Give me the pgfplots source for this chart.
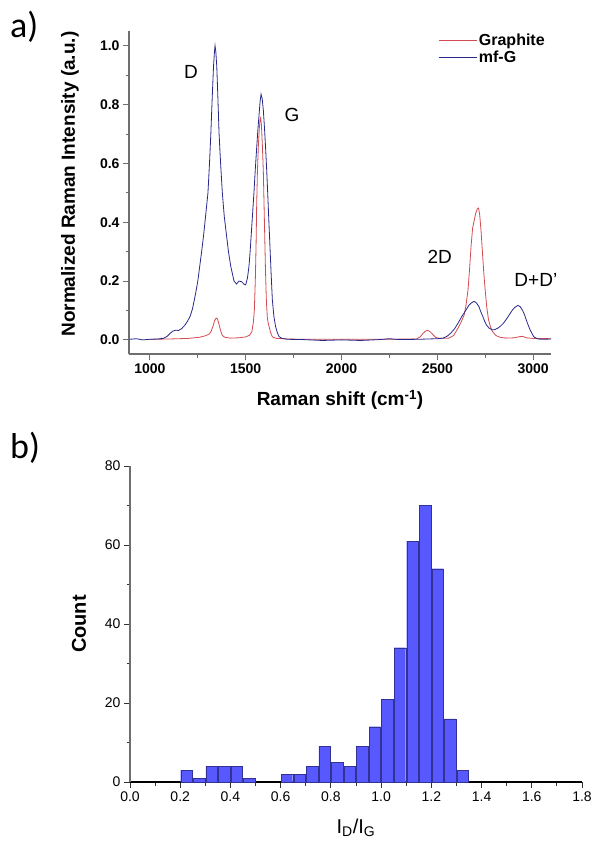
\documentclass[border=0pt]{standalone}
\usepackage{pgfplots}
\pgfplotsset{compat=1.18}
\usepackage{fontspec}
\setmainfont{Liberation Sans}
\newfontfamily\carlito{Carlito}
\definecolor{graphred}{RGB}{210,75,80}
\definecolor{mfblue}{RGB}{40,40,140}
\definecolor{histblue}{RGB}{88,88,255}
\definecolor{histedge}{RGB}{50,50,150}
\definecolor{axgray}{RGB}{110,110,110}
\begin{document}
\begin{tikzpicture}[x=1pt,y=1pt]
\useasboundingbox (0,0) rectangle (593,-843);
\node[anchor=base west, inner sep=0pt, font=\carlito\fontsize{36}{40}\selectfont] at (10,-38) {a)};
\node[anchor=base west, inner sep=0pt, font=\carlito\fontsize{36}{40}\selectfont] at (10,-458) {b)};
\begin{axis}[
  at={(129pt,-354pt)}, anchor=south west, scale only axis,
  width=422pt, height=323pt,
  xmin=891, xmax=3093, ymin=-0.048, ymax=1.05,
  axis x line*=bottom, axis y line*=left,
  axis line style={draw=axgray, line width=1.2pt, -},
  tick align=outside, major tick length=6pt, minor tick length=3.5pt,
  tick style={draw=axgray, line width=0.9pt},
  xtick={1000,1500,2000,2500,3000}, minor xtick={1250,1750,2250,2750},
  ytick={0,0.2,0.4,0.6,0.8,1.0}, minor ytick={0.1,0.3,0.5,0.7,0.9},
  /pgf/number format/assume math mode=true,
  xticklabel style={/pgf/number format/set thousands separator={}},
  yticklabel style={/pgf/number format/fixed, /pgf/number format/precision=1, /pgf/number format/fixed zerofill},
  tick label style={font=\bfseries\fontsize{14}{16}\selectfont},
  every axis y label/.style={at={(axis description cs:-0.140,0.526)}, rotate=90, anchor=center, font=\bfseries\fontsize{19}{22}\selectfont},
  every axis x label/.style={at={(axis description cs:0.5,-0.142)}, anchor=center, font=\bfseries\fontsize{19}{22}\selectfont},
  ylabel={Normalized Raman Intensity (a.u.)},
  xlabel={Raman shift (cm\textsuperscript{-1})},
  clip=false,
  legend style={at={(axis cs:2505,1.045)}, anchor=north west, draw=none, fill=none, inner sep=0pt, font=\bfseries\fontsize{16}{18}\selectfont, row sep=1pt, nodes={inner sep=1.5pt}},
  legend cell align=left,
  legend image code/.code={\draw[#1, line width=0.9pt] (0pt,0pt) -- (38pt,0pt);},
]
\addplot[graphred, line width=0.8pt] coordinates {
(1000,0.002) (1100,0.003) (1200,0.005) (1260,0.009) (1290,0.014) (1310,0.02) (1320,0.03) (1330,0.048) (1338,0.066) (1346,0.074) (1352,0.072) (1360,0.055) (1368,0.034) (1378,0.015) (1390,0.009) (1420,0.006) (1460,0.007) (1500,0.01) (1520,0.016) (1532,0.028) (1540,0.06) (1545,0.1) (1550,0.2) (1554,0.32) (1557,0.45) (1561,0.57) (1566,0.66) (1571,0.72) (1575,0.75) (1578,0.755) (1582,0.73) (1587,0.66) (1592,0.57) (1596,0.45) (1599,0.36) (1603,0.24) (1608,0.13) (1613,0.075) (1618,0.055) (1622,0.045) (1630,0.025) (1639,0.01) (1660,0.005) (1718,0.003) (1800,0.002) (2000,0.002) (2200,0.002) (2390,0.003) (2410,0.01) (2425,0.022) (2440,0.031) (2450,0.032) (2462,0.028) (2475,0.019) (2490,0.009) (2510,0.005) (2560,0.006) (2585,0.015) (2608,0.04) (2625,0.062) (2640,0.085) (2650,0.12) (2660,0.17) (2668,0.24) (2676,0.32) (2684,0.38) (2692,0.405) (2700,0.43) (2708,0.445) (2715,0.448) (2721,0.425) (2728,0.37) (2735,0.30) (2742,0.23) (2750,0.165) (2758,0.11) (2767,0.068) (2777,0.045) (2786,0.03) (2805,0.015) (2826,0.009) (2860,0.006) (2900,0.007) (2930,0.011) (2945,0.012) (2965,0.007) (3000,0.005) (3093,0.004)
};
\addlegendentry{Graphite}
\addplot[mfblue, line width=0.8pt] coordinates {
(893,0.002) (930,0.004) (960,0.0) (1000,0.002) (1040,0.003) (1070,0.005) (1090,0.012) (1105,0.022) (1120,0.03) (1135,0.033) (1150,0.032) (1165,0.038) (1180,0.048) (1195,0.062) (1210,0.08) (1222,0.105) (1232,0.136) (1242,0.17) (1250,0.2) (1260,0.25) (1270,0.30) (1281,0.36) (1292,0.43) (1303,0.5) (1311,0.60) (1318,0.70) (1325,0.82) (1332,0.93) (1337,0.98) (1340,1.0) (1344,0.98) (1349,0.93) (1355,0.82) (1361,0.70) (1369,0.60) (1378,0.50) (1388,0.42) (1399,0.36) (1410,0.30) (1422,0.25) (1439,0.20) (1452,0.19) (1465,0.2) (1478,0.198) (1490,0.19) (1500,0.187) (1509,0.21) (1517,0.25) (1523,0.30) (1529,0.36) (1536,0.43) (1543,0.50) (1550,0.58) (1557,0.65) (1563,0.71) (1569,0.76) (1575,0.81) (1580,0.835) (1586,0.82) (1592,0.78) (1598,0.72) (1604,0.65) (1610,0.57) (1616,0.48) (1621,0.40) (1627,0.31) (1633,0.22) (1639,0.136) (1647,0.08) (1656,0.045) (1665,0.025) (1674,0.011) (1690,0.005) (1720,0.002) (1800,0.001) (1900,-0.002) (2000,0.0) (2100,-0.002) (2200,0.001) (2250,0.004) (2300,0.001) (2400,0.002) (2500,0.004) (2530,0.006) (2550,0.012) (2570,0.023) (2590,0.038) (2608,0.057) (2628,0.08) (2648,0.10) (2665,0.118) (2680,0.127) (2692,0.131) (2705,0.125) (2717,0.113) (2727,0.095) (2737,0.08) (2747,0.063) (2757,0.05) (2770,0.04) (2786,0.034) (2800,0.035) (2816,0.04) (2830,0.047) (2845,0.057) (2860,0.07) (2875,0.085) (2890,0.10) (2905,0.111) (2920,0.117) (2932,0.113) (2945,0.10) (2955,0.085) (2964,0.068) (2974,0.05) (2984,0.034) (2995,0.02) (3004,0.01) (3024,0.003) (3050,0.002) (3093,0.003)
};
\addlegendentry{mf-G}
\node[font=\fontsize{19}{22}\selectfont] at (axis cs:1214,0.91) {D};
\node[font=\fontsize{19}{22}\selectfont] at (axis cs:1742,0.765) {G};
\node[font=\fontsize{19}{22}\selectfont] at (axis cs:2512,0.282) {2D};
\node[font=\fontsize{19}{22}\selectfont] at (axis cs:3014,0.204) {D+D'};
\end{axis}
\begin{axis}[
  at={(130pt,-782pt)}, anchor=south west, scale only axis,
  width=452pt, height=316pt,
  xmin=0, xmax=1.8, ymin=0, ymax=80,
  axis x line*=bottom, axis y line*=left,
  x axis line style={draw=black, line width=1.2pt, -},
  y axis line style={draw=axgray, line width=1.2pt, -},
  tick align=outside, major tick length=6pt, minor tick length=3.5pt,
  tick style={draw=black!80, line width=0.9pt},
  xtick={0,0.2,0.4,0.6,0.8,1.0,1.2,1.4,1.6,1.8},
  minor xtick={0.1,0.3,0.5,0.7,0.9,1.1,1.3,1.5,1.7},
  ytick={0,20,40,60,80}, minor ytick={10,30,50,70},
  /pgf/number format/assume math mode=true,
  xticklabel style={/pgf/number format/fixed, /pgf/number format/precision=1, /pgf/number format/fixed zerofill},
  tick label style={font=\fontsize{14}{16}\selectfont},
  every axis y label/.style={at={(axis description cs:-0.113,0.5)}, rotate=90, anchor=center, font=\bfseries\fontsize{20}{24}\selectfont},
  every axis x label/.style={at={(axis description cs:0.5,-0.146)}, anchor=center, font=\fontsize{20}{24}\selectfont},
  ylabel={Count},
  xlabel={I\textsubscript{D}/I\textsubscript{G}},
  clip=false,
]
\addplot[ybar, bar width=0.046, fill=histblue, draw=histedge, line width=0.4pt] coordinates {
(0.225,3) (0.275,1) (0.325,4) (0.375,4) (0.425,4) (0.475,1)
(0.625,2) (0.675,2) (0.725,4) (0.775,9) (0.825,5) (0.875,4) (0.925,9) (0.975,14)
(1.025,21) (1.075,34) (1.125,61) (1.175,70) (1.225,54) (1.275,16) (1.325,3)
};
\end{axis}
\end{tikzpicture}
\end{document}
